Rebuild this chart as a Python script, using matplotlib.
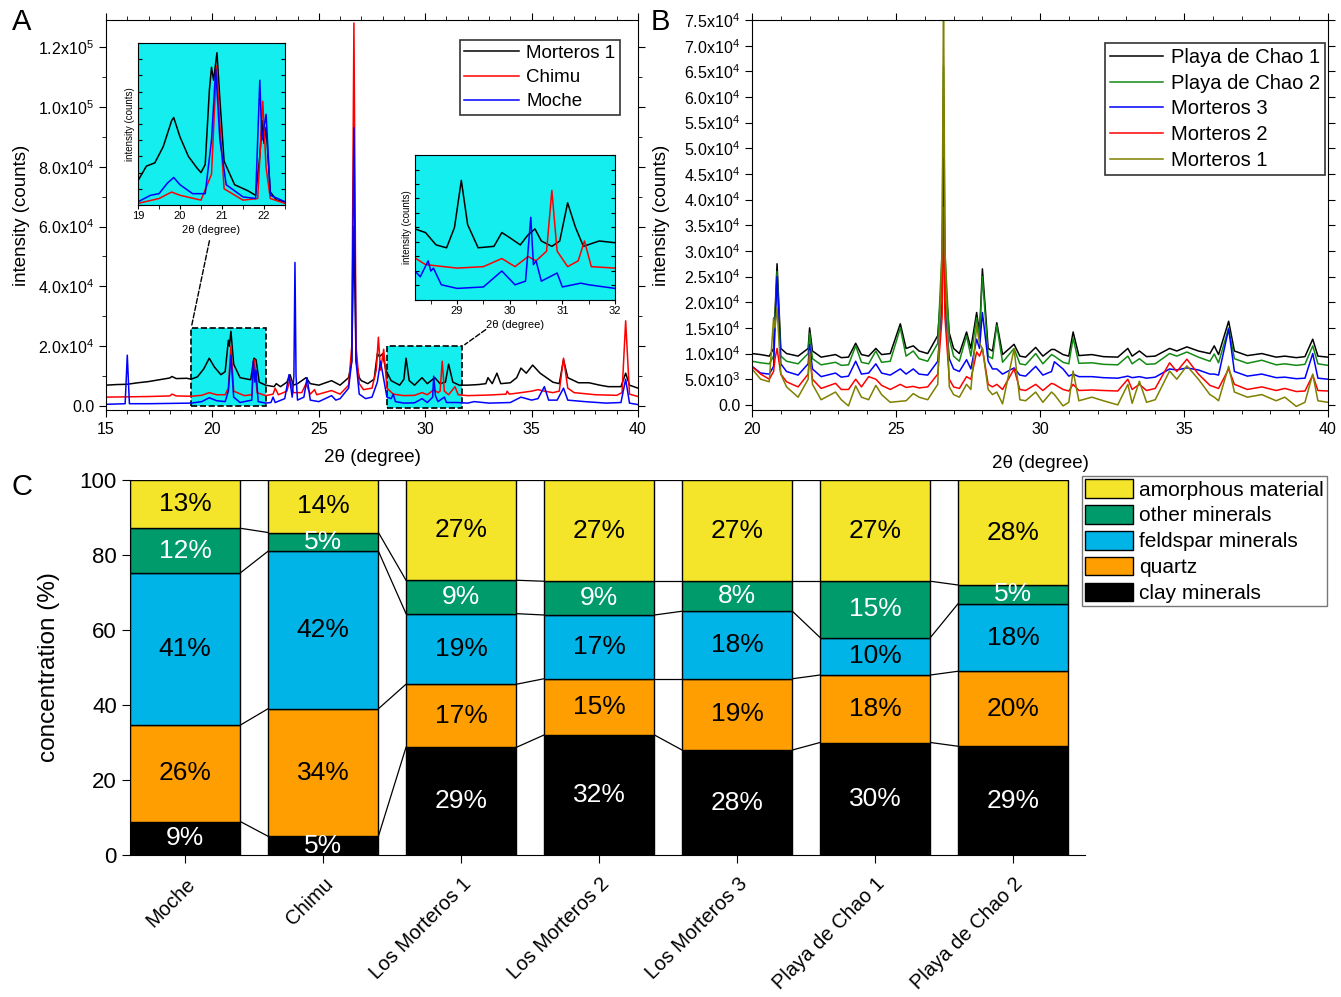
import numpy as np
import matplotlib.pyplot as plt
from matplotlib.ticker import MultipleLocator, FuncFormatter
from matplotlib.patches import Rectangle

plt.rcParams['font.family'] = ['Liberation Sans', 'DejaVu Sans']
plt.rcParams['mathtext.fontset'] = 'custom'
plt.rcParams['mathtext.rm'] = 'Liberation Sans'
plt.rcParams['mathtext.it'] = 'Liberation Sans:italic'

# ---------------- Panel A data (2theta, counts) ----------------
a_morteros1 = [(15.0, 7000), (15.5, 7200), (16.0, 7300), (16.5, 7800), (17.0, 8200), (17.5, 8800),
               (18.0, 9400), (18.1, 9900), (18.3, 9200), (18.8, 9300), (19.0, 9000), (19.3, 9800),
               (19.6, 12500), (19.85, 16000), (20.1, 13000), (20.4, 10500), (20.6, 11500), (20.75, 22000),
               (20.8, 20000), (20.87, 25000), (21.0, 14000), (21.3, 9500), (21.8, 8800), (21.95, 16000),
               (22.05, 15500), (22.2, 8000), (22.5, 7000), (22.9, 6500), (23.0, 7500), (23.2, 6500),
               (23.5, 8000), (23.65, 10500), (23.8, 7000), (24.0, 7500), (24.4, 9500), (24.6, 7500),
               (25.0, 7000), (25.6, 8500), (26.0, 7000), (26.4, 9500), (26.55, 15000), (26.65, 60000),
               (26.75, 15000), (26.9, 9500), (27.0, 8500), (27.3, 7500), (27.6, 9000), (27.75, 17500),
               (27.85, 16500), (28.0, 17500), (28.15, 12000), (28.4, 8500), (28.8, 7000), (29.0, 9000),
               (29.1, 16000), (29.25, 8500), (29.5, 7000), (29.85, 9500), (30.1, 7500), (30.45, 9500),
               (30.7, 7500), (30.95, 8000), (31.1, 14000), (31.3, 8000), (31.6, 7000), (32.0, 7000),
               (32.5, 7200), (32.85, 7500), (32.95, 9500), (33.15, 7500), (33.37, 11000), (33.55, 7500),
               (34.0, 7800), (34.3, 9500), (34.5, 12700), (34.75, 11000), (35.05, 13700), (35.4, 11000),
               (35.8, 9000), (36.0, 8000), (36.3, 7500), (36.5, 15500), (36.7, 9500), (37.2, 7800),
               (37.7, 7800), (38.2, 7000), (38.6, 6500), (39.2, 6500), (39.42, 11000), (39.6, 7000),
               (40.0, 6000)]
a_chimu = [(15.0, 3000), (16.0, 3100), (17.0, 3200), (18.0, 3400), (18.1, 4000), (18.3, 3400),
           (19.0, 3300), (19.5, 3600), (19.85, 4500), (20.2, 3800), (20.6, 3800), (20.75, 6000),
           (20.87, 20000), (21.0, 5000), (21.5, 3500), (21.85, 3800), (21.97, 15500), (22.1, 4500),
           (22.5, 3500), (22.85, 4000), (22.95, 6000), (23.1, 3800), (23.5, 5000), (23.65, 9000),
           (23.8, 4500), (24.2, 4500), (24.4, 7500), (24.6, 4000), (24.8, 5500), (24.9, 3800),
           (25.6, 5200), (26.0, 4000), (26.4, 7000), (26.55, 20000), (26.65, 128000), (26.75, 20000),
           (26.9, 7500), (27.1, 5500), (27.5, 6000), (27.7, 12000), (27.8, 23000), (27.9, 12000),
           (28.05, 19000), (28.2, 6000), (28.5, 4000), (29.0, 3500), (29.5, 3600), (29.85, 4500),
           (30.1, 3800), (30.4, 5500), (30.6, 4500), (30.7, 5000), (30.8, 15000), (30.9, 5000),
           (31.1, 3800), (31.4, 6500), (31.55, 3800), (32.0, 3500), (33.0, 3700), (33.8, 4000),
           (33.85, 5000), (33.95, 4000), (34.5, 4500), (35.0, 5000), (35.3, 5500), (35.6, 5000),
           (36.0, 4500), (36.3, 5000), (36.5, 16000), (36.7, 6000), (37.0, 4500), (38.0, 3800),
           (39.0, 3600), (39.25, 4500), (39.42, 28500), (39.6, 4000), (40.0, 3200)]
a_moche = [(15.0, 600), (15.9, 800), (16.0, 17000), (16.1, 800), (17.0, 800), (18.0, 900),
           (19.0, 1000), (19.5, 1500), (19.85, 2800), (20.2, 1800), (20.6, 1500), (20.75, 5000),
           (20.87, 17000), (21.0, 3000), (21.3, 1200), (21.85, 2000), (21.92, 15000), (22.0, 8000),
           (22.05, 12000), (22.15, 1500), (22.5, 1000), (22.75, 1200), (22.85, 3000), (22.95, 1200),
           (23.4, 2500), (23.6, 10500), (23.75, 3000), (23.83, 10000), (23.88, 48000), (23.93, 10000),
           (24.0, 2000), (24.3, 3000), (24.45, 9500), (24.6, 2000), (25.0, 1500), (25.6, 3500),
           (25.8, 2000), (26.0, 2500), (26.4, 6000), (26.55, 15000), (26.65, 93000), (26.75, 15000),
           (26.9, 4000), (27.2, 2500), (27.5, 3000), (27.75, 8000), (27.9, 15000), (28.05, 9000),
           (28.2, 3000), (28.4, 2500), (28.5, 4000), (28.6, 1500), (29.0, 1000), (29.5, 1100),
           (29.85, 2500), (30.1, 1200), (30.35, 3000), (30.4, 10000), (30.48, 3500), (30.6, 1500),
           (30.9, 3000), (31.0, 1200), (31.5, 1200), (32.0, 1000), (32.3, 1500), (33.0, 1000),
           (34.0, 1200), (34.5, 3000), (35.0, 2000), (35.3, 2500), (35.6, 6500), (35.8, 2000),
           (36.2, 2000), (36.5, 6000), (36.7, 2000), (37.5, 1500), (38.5, 1000), (39.2, 1200),
           (39.42, 9000), (39.6, 1000), (40.0, 500)]

# inset 1 (19-22.5), arbitrary units
in1_morteros1 = [(19.0, 15), (19.2, 24), (19.4, 26), (19.6, 36), (19.8, 52), (19.85, 54), (20.0, 42),
                 (20.2, 30), (20.4, 23), (20.5, 20), (20.6, 25), (20.7, 71), (20.75, 85), (20.8, 77),
                 (20.88, 94), (20.95, 65), (21.05, 27), (21.3, 12.5), (21.6, 9), (21.8, 6), (21.9, 30),
                 (21.96, 52), (22.0, 38), (22.05, 48), (22.15, 8), (22.3, 3), (22.5, 2)]
in1_chimu = [(19.0, 1), (19.5, 4), (19.8, 8), (20.0, 6), (20.5, 3), (20.75, 19), (20.87, 86),
             (20.95, 50), (21.05, 10), (21.5, 3), (21.85, 4), (21.97, 64), (22.05, 23), (22.15, 4),
             (22.5, 1)]
in1_moche = [(19.0, 2), (19.3, 6), (19.5, 7), (19.7, 13.5), (19.85, 17), (20.0, 12.5), (20.3, 7),
             (20.6, 7), (20.75, 40), (20.85, 84), (20.95, 40), (21.1, 12.5), (21.5, 5), (21.8, 4),
             (21.9, 77), (21.95, 40), (22.05, 56), (22.15, 6), (22.5, 2)]

# inset 2 (28.2-32), arbitrary units
in2_morteros1 = [(28.2, 49), (28.4, 46.5), (28.6, 38), (28.8, 36), (28.95, 50), (29.08, 82.5), (29.2, 52),
                 (29.4, 36), (29.7, 37), (29.85, 46.5), (30.0, 43), (30.2, 38), (30.35, 45), (30.48, 49),
                 (30.6, 40.7), (30.8, 37), (30.95, 40.7), (31.1, 67), (31.25, 50), (31.4, 37),
                 (31.7, 40.7), (32.0, 39.5)]
in2_chimu = [(28.2, 29), (28.4, 24.4), (29.0, 22), (29.5, 23), (29.85, 28.6), (30.1, 23), (30.35, 30),
             (30.5, 27), (30.7, 33.7), (30.8, 75.6), (30.9, 33.7), (31.1, 23), (31.3, 27), (31.42, 40.7),
             (31.55, 23), (32.0, 22)]
in2_moche = [(28.2, 20), (28.3, 16), (28.45, 27), (28.5, 20), (28.55, 22), (28.7, 10.5), (29.0, 8),
             (29.5, 9), (29.85, 20), (30.1, 10.5), (30.3, 13), (30.4, 57), (30.45, 24.4), (30.5, 27),
             (30.6, 13), (30.9, 18.6), (31.0, 9), (31.35, 11.6), (31.5, 10.5), (32.0, 8)]

# ---------------- Panel B data ----------------
b_theta = [20.0, 20.3, 20.6, 20.75, 20.8, 20.87, 21.0, 21.2, 21.6, 21.95, 22.0, 22.1, 22.4, 22.9, 23.1,
           23.35, 23.6, 23.8, 24.05, 24.3, 24.5, 24.8, 25.15, 25.35, 25.6, 25.8, 26.1, 26.45, 26.6, 26.65,
           26.7, 26.85, 27.0, 27.2, 27.45, 27.6, 27.8, 27.9, 28.0, 28.2, 28.35, 28.5, 28.7, 29.1, 29.3,
           29.5, 29.85, 30.1, 30.4, 30.5, 30.8, 31.0, 31.15, 31.35, 31.8, 32.2, 32.7, 33.05, 33.2, 33.45,
           33.7, 34.0, 34.5, 34.75, 35.1, 35.5, 35.9, 36.05, 36.2, 36.55, 36.75, 37.2, 37.7, 38.2, 38.5,
           38.9, 39.2, 39.47, 39.65, 40.0]
b_chao1 = [10000, 9800, 9500, 11000, 18000, 27500, 11000, 10000, 9500, 11000, 15000, 10500, 9300, 9800, 9200,
           9300, 12000, 9800, 9500, 11000, 9800, 10000, 15800, 11000, 11500, 10500, 10000, 13500, 25000, 51000,
           25000, 14000, 11000, 10000, 14200, 11000, 18000, 14000, 26500, 11000, 10500, 16000, 9800, 11800, 9500,
           9300, 11200, 9500, 10800, 10800, 9800, 9500, 14200, 9600, 9800, 9400, 9300, 11000, 9500, 10500,
           9400, 9500, 11000, 10500, 11300, 10500, 10000, 11500, 9800, 16300, 10500, 9600, 10000, 9300, 9500,
           9200, 9400, 12800, 9500, 9300]
b_chao2 = [8500, 8200, 8000, 9500, 17000, 26000, 9500, 8500, 8000, 10000, 14000, 9000, 7800, 8300, 7700,
           7800, 11500, 8300, 8000, 10500, 8300, 8500, 15000, 9500, 10500, 9000, 8500, 12000, 30000, 66000,
           30000, 13000, 9500, 8500, 13500, 9500, 17000, 13000, 25000, 9500, 9000, 15500, 8300, 11000, 8000,
           7800, 10000, 8000, 9800, 9500, 8300, 8000, 13000, 8100, 8200, 7900, 7800, 9500, 8000, 9000,
           7900, 8000, 10000, 9500, 10300, 9300, 8500, 9900, 8200, 15000, 9000, 8100, 8700, 7800, 8000,
           7700, 7900, 11500, 8000, 7700]
b_morteros3 = [7500, 6200, 6000, 7500, 15000, 25000, 8000, 6500, 5800, 8000, 11800, 7000, 5500, 6200, 5400,
               5600, 8500, 6000, 6200, 8000, 6200, 5800, 7000, 6000, 7000, 6000, 5800, 8500, 20000, 48000,
               20000, 9000, 7000, 6500, 8800, 7000, 12800, 11000, 18000, 8500, 7000, 7000, 6000, 7200, 5800,
               5600, 7500, 5800, 6500, 8400, 7000, 5600, 6000, 5500, 5500, 5300, 5200, 5600, 5300, 5500,
               5200, 5400, 7000, 6800, 7200, 6800, 6000, 6000, 5800, 14800, 6500, 5600, 6000, 5300, 5400,
               5100, 5200, 10000, 5200, 5000]
b_morteros2 = [7500, 6000, 5000, 6500, 9000, 11000, 6000, 4500, 3500, 6000, 10000, 5000, 3200, 4200, 3000,
               3000, 5000, 3500, 5500, 5000, 3800, 3000, 4000, 3400, 3600, 3300, 3500, 6000, 17000, 38500,
               17000, 5000, 3500, 3200, 5500, 5000, 10300, 9500, 11000, 4000, 3500, 4000, 3000, 7000, 3000,
               2800, 4000, 2800, 4200, 4000, 3000, 2700, 4000, 2800, 2900, 2800, 2700, 5000, 3000, 4000,
               2800, 3200, 8200, 6500, 8900, 6000, 3800, 3500, 3200, 7000, 4000, 3000, 3500, 2800, 3200,
               2600, 2700, 5800, 2800, 2700]
b_morteros1 = [7000, 5000, 4500, 17000, 15000, 19000, 6000, 3500, 1500, 5000, 10500, 4000, 1000, 2500, 1000,
               -200, 3700, 1500, 1000, 3800, 2000, 500, 700, 800, 2200, 1500, 1000, 4000, 30000, 80000,
               30000, 3500, 2000, 1500, 4000, 3000, 15500, 12000, 11000, 3000, 2000, 2500, 200, 10900, 1000,
               800, 2500, 500, 2500, 2000, -200, 500, 6600, 800, 1500, 800, 0, 4000, 300, 4600,
               500, 1000, 6600, 5000, 7600, 5000, 2000, 1500, 800, 7500, 2500, 1500, 2000, 800, 1500,
               -300, 500, 6000, 800, 500]

# ---------------- Panel C data ----------------
samples = ['Moche', 'Chimu', 'Los Morteros 1', 'Los Morteros 2', 'Los Morteros 3',
           'Playa de Chao 1', 'Playa de Chao 2']
clay = [9, 5, 29, 32, 28, 30, 29]
quartz = [26, 34, 17, 15, 19, 18, 20]
feldspar = [41, 42, 19, 17, 18, 10, 18]
other = [12, 5, 9, 9, 8, 15, 5]
amorphous = [13, 14, 27, 27, 27, 27, 28]

fig = plt.figure(figsize=(13.41, 9.97), dpi=100)
W, H = 1341, 997


def px_axes(l, t, r, b):
    return fig.add_axes([l / W, 1 - b / H, (r - l) / W, (b - t) / H])


def sci_fmt(v, pos):
    if abs(v) < 1e-9:
        return '0.0'
    e = int(np.floor(np.log10(abs(v))))
    return f'{v / 10 ** e:.1f}x10$^{{{e}}}$'


def xy(pairs):
    arr = np.array(pairs, dtype=float)
    return arr[:, 0], arr[:, 1]


def style_spec_axes(ax):
    ax.tick_params(which='both', direction='out', top=True, right=True, labelsize=11.5)
    ax.tick_params(which='major', length=5)
    ax.tick_params(which='minor', length=3)
    ax.yaxis.set_major_formatter(FuncFormatter(sci_fmt))
    ax.set_xlabel('2\u03b8 (degree)', fontsize=13.5)
    ax.set_ylabel('intensity (counts)', fontsize=13.5, labelpad=6)


# ---------------- Panel A ----------------
axA = px_axes(106, 20, 638, 410)
axA.set_xlim(15, 40)
axA.set_ylim(-1300, 129000)
axA.xaxis.set_major_locator(MultipleLocator(5))
axA.xaxis.set_minor_locator(MultipleLocator(1))
axA.yaxis.set_major_locator(MultipleLocator(20000))
axA.yaxis.set_minor_locator(MultipleLocator(10000))
style_spec_axes(axA)
axA.xaxis.labelpad = 9
axA.add_patch(Rectangle((19, 0), 3.5, 26000, fc='#14EEEE', ec='black', ls='--', lw=1.2, zorder=1))
axA.add_patch(Rectangle((28.2, -500), 3.55, 20500, fc='#14EEEE', ec='black', ls='--', lw=1.2, zorder=1))
for data, col, lab in [(a_morteros1, 'black', 'Morteros 1'), (a_chimu, 'red', 'Chimu'),
                       (a_moche, 'blue', 'Moche')]:
    x, y = xy(data)
    axA.plot(x, y, color=col, lw=1.1, label=lab, zorder=2)
legA = axA.legend(loc='upper right', bbox_to_anchor=((620 - 106) / 532, 1 - 20 / 390), fontsize=13.5,
                  frameon=True, fancybox=False, edgecolor='black', handlelength=2.9, borderpad=0.25,
                  labelspacing=0.38, handletextpad=0.4, borderaxespad=0)
legA.get_frame().set_linewidth(1.2)

# connectors
axA.annotate('', xy=(19, 26000), xycoords='data', xytext=(210 / W, 1 - 238 / H),
             textcoords='figure fraction', arrowprops=dict(arrowstyle='-', ls='--', lw=1, color='black'))
axA.annotate('', xy=(31.75, 20000), xycoords='data', xytext=(488 / W, 1 - 328 / H),
             textcoords='figure fraction', arrowprops=dict(arrowstyle='-', ls='--', lw=1, color='black'))


def style_inset(ax, xlim, major):
    ax.set_facecolor('#14EEEE')
    ax.set_xlim(*xlim)
    ax.set_ylim(0, 100)
    ax.xaxis.set_major_locator(MultipleLocator(major))
    ax.xaxis.set_minor_locator(MultipleLocator(major / 2))
    ax.yaxis.set_major_locator(MultipleLocator(10))
    ax.tick_params(axis='y', which='both', direction='in', left=True, right=True, labelleft=False, length=3)
    ax.tick_params(axis='x', which='both', direction='out', labelsize=8, length=3, pad=1.5)
    ax.set_xlabel('2\u03b8 (degree)', fontsize=8, labelpad=3)
    ax.set_ylabel('intensity (counts)', fontsize=7, labelpad=2)


in1 = px_axes(138, 43, 285, 205)
style_inset(in1, (19, 22.5), 1)
in2 = px_axes(415, 155, 615, 300)
style_inset(in2, (28.2, 32), 1)
for ax, sets in [(in1, [in1_morteros1, in1_chimu, in1_moche]), (in2, [in2_morteros1, in2_chimu, in2_moche])]:
    for data, col in zip(sets, ['black', 'red', 'blue']):
        x, y = xy(data)
        ax.plot(x, y, color=col, lw=1.1)

# ---------------- Panel B ----------------
axB = px_axes(752, 20, 1328, 410)
axB.set_xlim(20, 40)
axB.set_ylim(-1000, 75000)
axB.xaxis.set_major_locator(MultipleLocator(5))
axB.xaxis.set_minor_locator(MultipleLocator(1))
axB.yaxis.set_major_locator(MultipleLocator(5000))
style_spec_axes(axB)
axB.xaxis.labelpad = 13
axB.yaxis.labelpad = 10
for vals, col, lab in [(b_chao1, 'black', 'Playa de Chao 1'), (b_chao2, '#138a13', 'Playa de Chao 2'),
                       (b_morteros3, 'blue', 'Morteros 3'), (b_morteros2, 'red', 'Morteros 2'),
                       (b_morteros1, '#7f7f00', 'Morteros 1')]:
    axB.plot(b_theta, vals, color=col, lw=1.1, label=lab)
legB = axB.legend(loc='upper right', bbox_to_anchor=((1325 - 752) / 576, 1 - 23 / 390), fontsize=14.5,
                  frameon=True, fancybox=False, edgecolor='black', handlelength=2.6, borderpad=0.25,
                  labelspacing=0.33, handletextpad=0.4, borderaxespad=0)
legB.get_frame().set_linewidth(1.2)

# ---------------- Panel C ----------------
axC = px_axes(130, 480, 1085, 855)
pos = np.arange(len(samples))
layers = [clay, quartz, feldspar, other, amorphous]
names = ['clay minerals', 'quartz', 'feldspar minerals', 'other minerals', 'amorphous material']
colors = ['black', '#FF9E00', '#00B4E8', '#009B6B', '#F5E52A']
txt_colors = ['white', 'black', 'black', 'white', 'black']
totals = np.sum(layers, axis=0)
bottom = np.zeros(len(samples))
bw = 0.8
handles = []
for vals, name, col, tc in zip(layers, names, colors, txt_colors):
    h = np.array(vals) / totals * 100
    bars = axC.bar(pos, h, bw, bottom=bottom, color=col, edgecolor='black', lw=1, label=name, zorder=2)
    handles.append(bars)
    for i in range(len(samples)):
        axC.text(pos[i], bottom[i] + h[i] / 2, f'{vals[i]}%', ha='center', va='center', fontsize=19,
                 color=tc, zorder=3, clip_on=False)
    bottom = bottom + h
    # connecting lines between neighbouring bars
    for i in range(len(samples) - 1):
        axC.plot([pos[i] + bw / 2, pos[i + 1] - bw / 2], [bottom[i], bottom[i + 1]], color='black',
                 lw=0.9, zorder=1)
axC.set_xlim(-0.4, 6.52)
axC.set_ylim(0, 100)
axC.yaxis.set_major_locator(MultipleLocator(20))
axC.set_xticks(pos)
axC.set_xticklabels(samples, rotation=45, ha='right', va='top', rotation_mode='anchor', fontsize=14.5)
axC.tick_params(axis='both', direction='out', length=6)
axC.tick_params(axis='y', labelsize=16)
axC.tick_params(axis='x', pad=8)
axC.spines['top'].set_visible(False)
axC.spines['right'].set_visible(False)
axC.set_ylabel('concentration (%)', fontsize=17.5, labelpad=14)
legC = fig.legend(handles[::-1], names[::-1], loc='upper left', bbox_to_anchor=(1082 / W, 1 - 476 / H),
                  fontsize=15, frameon=True, fancybox=False, edgecolor='#555555', handlelength=2.3,
                  handleheight=1.0, borderpad=0.15, labelspacing=0.26, handletextpad=0.3, borderaxespad=0)

# panel letters
for letter, x, y in [('A', 22, 22), ('B', 660, 22), ('C', 22, 487)]:
    fig.text(x / W, 1 - y / H, letter, fontsize=21, ha='center', va='center')

plt.savefig('out.png', dpi=100)
